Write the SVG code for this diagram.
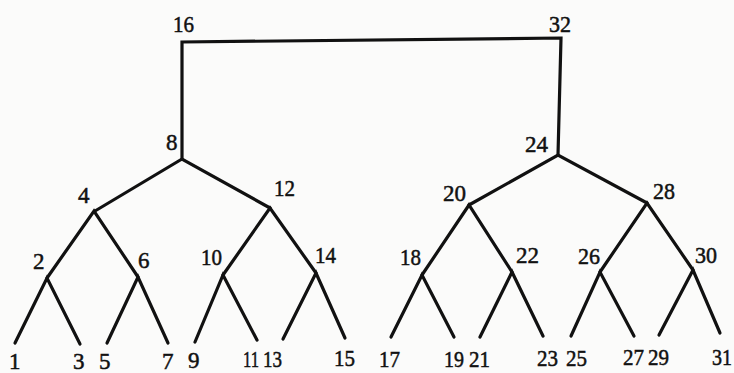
<svg xmlns="http://www.w3.org/2000/svg" width="734" height="373" viewBox="0 0 734 373">
<style>
.e{fill:none;stroke:#111;stroke-width:3.2;stroke-linecap:round;stroke-linejoin:miter}
.t{font-family:"Liberation Serif","DejaVu Serif","Noto Serif","Times New Roman",Times,serif;font-size:23px;fill:#111;stroke:#111;stroke-width:0.5}
</style>
<rect width="734" height="373" fill="#fbfbfa"/>
<g id="connectors" class="e">
<polyline points="182,159 182,42 561,38 558,155"/>
<polyline points="95,211 182,159 270,208"/>
<polyline points="469,205 558,155 647,203"/>
<polyline points="47,278 94,211 138,277"/>
<polyline points="223,275 270,208 316,273"/>
<polyline points="422,275 469,205 512,272"/>
<polyline points="600,272 647,203 693,270"/>
<polyline points="15,343 47,278 80,344"/>
<polyline points="107,343 138,277 168,343"/>
<polyline points="195,342 223,275 257,340"/>
<polyline points="283,339 316,273 345,338"/>
<polyline points="391,337 422,275 454,337"/>
<polyline points="480,337 512,272 543,336"/>
<polyline points="571,336 600,272 634,336"/>
<polyline points="659,335 693,270 720,333"/>
</g>
<g class="t">
<g id="n16"><text x="173" y="32" textLength="21" lengthAdjust="spacingAndGlyphs">16</text></g>
<g id="n32"><text x="549" y="32" textLength="22" lengthAdjust="spacingAndGlyphs">32</text></g>
<g id="n8"><text x="166" y="150">8</text></g>
<g id="n24"><text x="525" y="152" textLength="23" lengthAdjust="spacingAndGlyphs">24</text></g>
<g id="n4"><text x="78" y="203">4</text></g>
<g id="n12"><text x="274" y="196" textLength="21" lengthAdjust="spacingAndGlyphs">12</text></g>
<g id="n20"><text x="443" y="201" textLength="23" lengthAdjust="spacingAndGlyphs">20</text></g>
<g id="n28"><text x="653" y="199" textLength="22" lengthAdjust="spacingAndGlyphs">28</text></g>
<g id="n2"><text x="33" y="269">2</text></g>
<g id="n6"><text x="138" y="268">6</text></g>
<g id="n10"><text x="201" y="265" textLength="21" lengthAdjust="spacingAndGlyphs">10</text></g>
<g id="n14"><text x="315" y="263" textLength="21" lengthAdjust="spacingAndGlyphs">14</text></g>
<g id="n18"><text x="400" y="265" textLength="21" lengthAdjust="spacingAndGlyphs">18</text></g>
<g id="n22"><text x="516" y="263" textLength="23" lengthAdjust="spacingAndGlyphs">22</text></g>
<g id="n26"><text x="578" y="264" textLength="22" lengthAdjust="spacingAndGlyphs">26</text></g>
<g id="n30"><text x="695" y="263" textLength="22" lengthAdjust="spacingAndGlyphs">30</text></g>
<g id="n1"><text x="9" y="369">1</text></g>
<g id="n3"><text x="73" y="369">3</text></g>
<g id="n5"><text x="99" y="369">5</text></g>
<g id="n7"><text x="162" y="369">7</text></g>
<g id="n9"><text x="188" y="368">9</text></g>
<g id="n11"><text x="243" y="367" textLength="16" lengthAdjust="spacingAndGlyphs">11</text></g>
<g id="n13"><text x="263" y="367" textLength="19" lengthAdjust="spacingAndGlyphs">13</text></g>
<g id="n15"><text x="334" y="366" textLength="21" lengthAdjust="spacingAndGlyphs">15</text></g>
<g id="n17"><text x="379" y="367" textLength="21" lengthAdjust="spacingAndGlyphs">17</text></g>
<g id="n19"><text x="444" y="367" textLength="20" lengthAdjust="spacingAndGlyphs">19</text></g>
<g id="n21"><text x="469" y="367" textLength="21" lengthAdjust="spacingAndGlyphs">21</text></g>
<g id="n23"><text x="537" y="366" textLength="21" lengthAdjust="spacingAndGlyphs">23</text></g>
<g id="n25"><text x="566" y="366" textLength="21" lengthAdjust="spacingAndGlyphs">25</text></g>
<g id="n27"><text x="623" y="365" textLength="21" lengthAdjust="spacingAndGlyphs">27</text></g>
<g id="n29"><text x="648" y="365" textLength="21" lengthAdjust="spacingAndGlyphs">29</text></g>
<g id="n31"><text x="712" y="365" textLength="20" lengthAdjust="spacingAndGlyphs">31</text></g>
</g>
</svg>
